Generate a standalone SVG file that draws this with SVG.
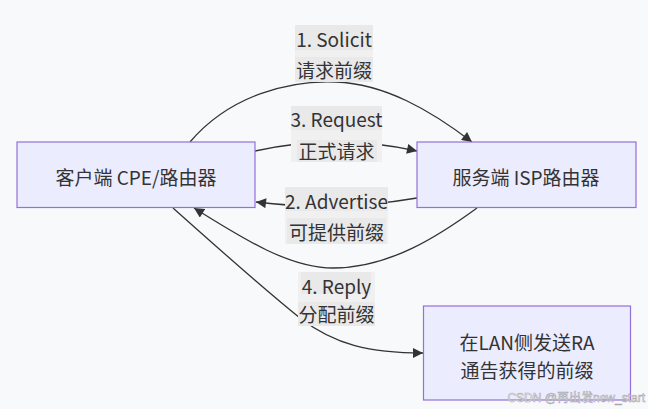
<svg xmlns="http://www.w3.org/2000/svg" width="648" height="409" viewBox="0 0 648 409">
<style>
text{font-family:"Noto Sans CJK SC","Noto Sans",sans-serif;font-size:19px;fill:#333333;text-anchor:middle;dominant-baseline:central}
.node rect{fill:#ECECFF;stroke:#9370DB;stroke-width:1.2}
.edge{fill:none;stroke:#333333;stroke-width:1.3;marker-end:url(#arrow)}
.lbg{fill:#f0f0f1}
.lln{fill:#e9e9ea}
.wm{font-size:12px;fill:#ffffff;stroke:#a9a9b0;stroke-width:0.6;text-anchor:end;font-family:"Liberation Sans","Noto Sans CJK SC",sans-serif}
</style>
<defs>
<marker id="arrow" viewBox="0 0 10 10" refX="10" refY="5" markerUnits="userSpaceOnUse" markerWidth="11" markerHeight="10" orient="auto">
<path d="M0,0 L10,5 L0,10 z" fill="#333333"/>
</marker>
</defs>
<rect width="648" height="409" fill="#f8f9fa"/>
<g id="connectors">
<path class="edge" d="M190,142 C230,95 290,80 336,82 C385,84 430,110 472,142"/>
<path class="edge" d="M255,151 Q336,133 417,151"/>
<path class="edge" d="M417,198 Q336,212 256,202"/>
<path class="edge" d="M477,208 C440,235 390,268 333,268 C290,268 245,240 194,208"/>
<path class="edge" d="M173,208 C220,250 265,290 300,318 C335,345 370,353 423,353"/>
</g>
<g id="edge-labels">
<g id="label-solicit">
<rect class="lbg" x="295" y="25" width="78" height="57"/>
<rect class="lln" x="295" y="25" width="78" height="25"/>
<rect class="lln" x="295" y="57" width="78" height="25"/>
<text x="334" y="38">1. Solicit</text>
<text x="334" y="69">请求前缀</text>
</g>
<g id="label-request">
<rect class="lbg" x="291" y="106" width="91" height="56"/>
<rect class="lln" x="291" y="106" width="91" height="24"/>
<rect class="lln" x="297" y="140" width="80" height="22"/>
<text x="336.5" y="118">3. Request</text>
<text x="336.5" y="150">正式请求</text>
</g>
<g id="label-advertise">
<rect class="lbg" x="285" y="187" width="103" height="57"/>
<rect class="lln" x="285" y="187" width="103" height="24"/>
<rect class="lln" x="287" y="218" width="99" height="26"/>
<text x="336.5" y="200">2. Advertise</text>
<text x="336.5" y="231">可提供前缀</text>
</g>
<g id="label-reply">
<rect class="lbg" x="298" y="272" width="77" height="54"/>
<rect class="lln" x="301" y="272" width="70" height="22"/>
<rect class="lln" x="298" y="302" width="77" height="24"/>
<text x="336.5" y="285">4. Reply</text>
<text x="336.5" y="313">分配前缀</text>
</g>
</g>
<g id="node-client" class="node">
<rect x="17" y="142" width="238" height="65.5"/>
<text x="136" y="176">客户端 CPE/路由器</text>
</g>
<g id="node-isp" class="node">
<rect x="417" y="142" width="219" height="65.5"/>
<text x="526" y="176">服务端 ISP路由器</text>
</g>
<g id="node-lan" class="node">
<rect x="423.5" y="306" width="207" height="94"/>
<text x="527" y="341">在LAN侧发送RA</text>
<text x="527" y="369">通告获得的前缀</text>
</g>
<text class="wm" x="645" y="398">CSDN @再出发new_start</text>
</svg>
